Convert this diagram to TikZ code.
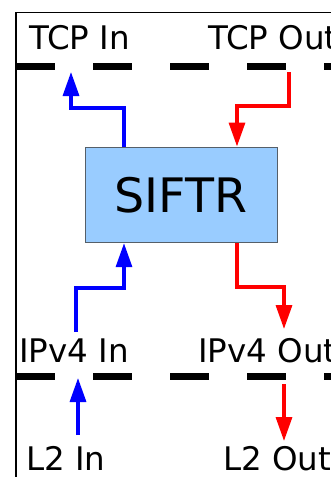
\documentclass[tikz,border=0pt]{standalone}
\usepackage{fontspec}
\setmainfont{DejaVu Sans}
\usetikzlibrary{arrows.meta}
\definecolor{boxfill}{RGB}{153,204,255}
\definecolor{boxline}{RGB}{85,95,105}
\tikzset{
  lbl/.style={anchor=base west, inner sep=0pt, font=\fontsize{32.5}{32.5}\selectfont},
  layer/.style={line width=7pt, dash pattern=on 39pt off 38pt},
  inarrow/.style={draw=blue, line width=3.3pt, -{Triangle[length=24pt,width=16pt]}},
  outarrow/.style={draw=red, line width=3.3pt, -{Triangle[length=24pt,width=16pt]}},
}
\begin{document}
\begin{tikzpicture}[x=1pt,y=-1pt]
\useasboundingbox (0,0) rectangle (331,477);
\clip (0,0) rectangle (331,477);
% frame
\draw[line width=1.5pt] (16,480) -- (16,12.5) -- (340,12.5);
% layer separators
\draw[layer] (16,66) -- (400,66);
\draw[layer] (16,376) -- (400,376);
% labels
\node[lbl] (tcpin) at (29,49) {TCP In};
\node[lbl] (tcpout) at (208,49) {TCP Out};
\node[lbl] (ipin) at (19,362) {IPv4 In};
\node[lbl] (ipout) at (198,362) {IPv4 Out};
\node[lbl] (l2in) at (26,470) {L2 In};
\node[lbl] (l2out) at (223,470) {L2 Out};
% box
\node[draw=boxline, fill=boxfill, line width=1.2pt, minimum width=192pt, minimum height=95.5pt, inner sep=0pt, anchor=north west] (siftr) at (84.5,146.5) {};
\node[inner sep=0pt, anchor=base, font=\fontsize{47.5}{47.5}\selectfont] (siftrtext) at (181,212) {SIFTR};
% connector end points
\coordinate (tinTip) at (71,72);
\coordinate (toutStart) at (289,72);
\coordinate (iinStart) at (76,332);
\coordinate (ioutTip) at (284,329);
\coordinate (l2inStart) at (78,435);
\coordinate (l2inTip) at (78,378);
\coordinate (l2outStart) at (284,384);
\coordinate (l2outTip) at (284,441);
% arrows
\draw[inarrow] ([xshift=39.5pt]siftr.north west) |- (71,108) -- (tinTip);
\draw[outarrow] (toutStart) -- (289,106) -| ([xshift=152.5pt]siftr.north west);
\draw[inarrow] (iinStart) -- (76,288) -| ([xshift=39.5pt]siftr.south west);
\draw[outarrow] ([xshift=152.5pt]siftr.south west) |- (284,287) -- (ioutTip);
\draw[inarrow] (l2inStart) -- (l2inTip);
\draw[outarrow] (l2outStart) -- (l2outTip);
\end{tikzpicture}
\end{document}
